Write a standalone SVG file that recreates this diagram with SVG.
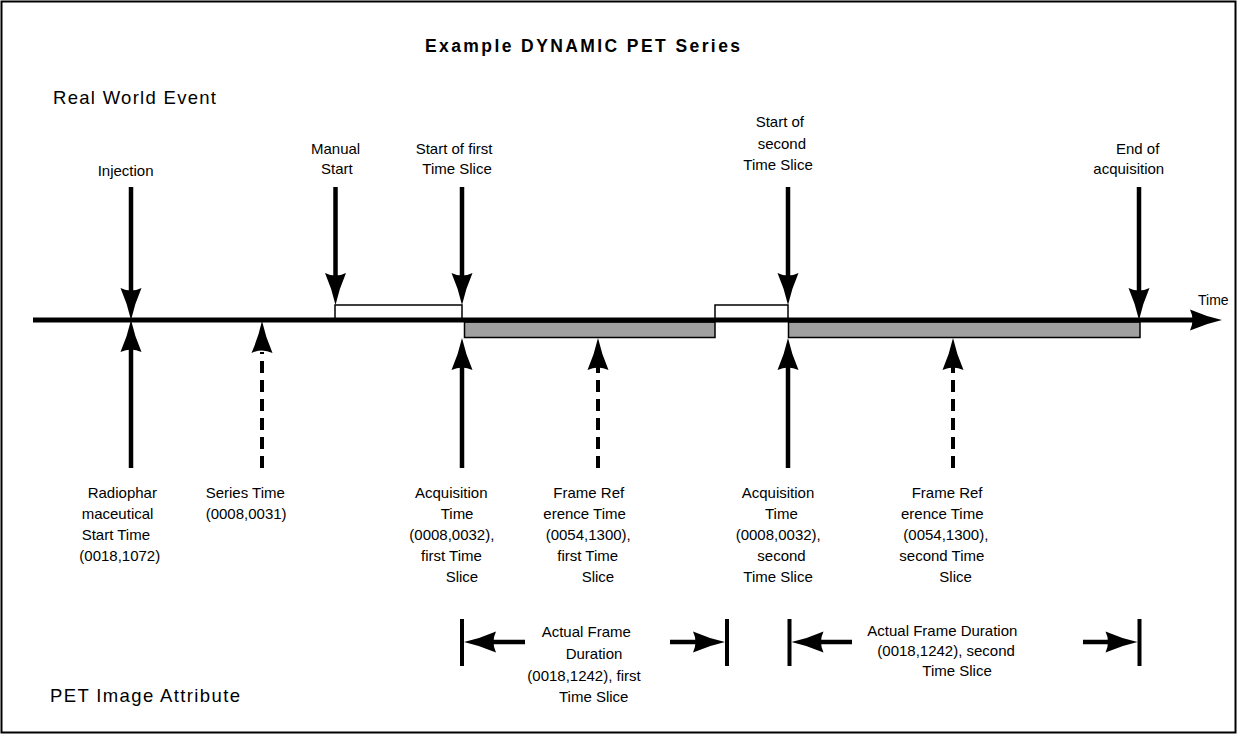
<svg xmlns="http://www.w3.org/2000/svg" xmlns:xlink="http://www.w3.org/1999/xlink" width="1238" height="734" viewBox="0 0 1238 734">
<style>
  text { font-family: "Liberation Sans", Arial, sans-serif; fill: #000; }
  .lbl { font-size: 15px; }
  .big { font-size: 18.5px; }
  .title { font-size: 17.5px; font-weight: bold; }
  .shaft { stroke: #000; stroke-width: 4.5; fill: none; }
  .dash { stroke: #000; stroke-width: 4; fill: none; stroke-dasharray: 12 7; }
  .bar { stroke: #000; stroke-width: 4; }
  .axis { stroke: #000; stroke-width: 5; }
  .ah { fill: #000; }
  .slice { fill: #a0a0a0; stroke: #000; stroke-width: 1.5; }
  .gap { fill: #fff; stroke: #000; stroke-width: 1.5; }
</style>
<defs>
  <path id="ah" d="M0,0 Q-16,-3.5 -32,-10.5 Q-27,0 -32,10.5 Q-16,3.5 0,0Z"/>
</defs>
<rect x="1.5" y="1.5" width="1234" height="731" fill="#fff" stroke="#000" stroke-width="2"/>

<text class="title" x="425" y="52" textLength="315">Example DYNAMIC PET Series</text>
<text class="big" x="53" y="104" textLength="163">Real World Event</text>
<text class="big" x="50" y="702" textLength="190">PET Image Attribute</text>

<!-- time slices -->
<g id="slices">
  <rect class="gap" x="335" y="305" width="127" height="15"/>
  <rect class="gap" x="715" y="305" width="73" height="15"/>
  <rect class="slice" x="464.5" y="322" width="250.5" height="15.5"/>
  <rect class="slice" x="788.5" y="322" width="351.5" height="15.5"/>
</g>

<!-- time axis -->
<g id="axis">
  <line class="axis" x1="33" y1="320" x2="1200" y2="320"/>
  <use xlink:href="#ah" class="ah" transform="translate(1222,320)"/>
  <text x="1198" y="305" font-size="14">Time</text>
</g>

<!-- real world events -->
<g id="injection">
  <text class="lbl" x="97.7" y="176">Injection</text>
</g>
<g id="manual-start">
  <text class="lbl" x="311" y="154">Manual</text>
  <text class="lbl" x="321" y="174">Start</text>
</g>
<g id="start-first">
  <text class="lbl" x="415.7" y="154">Start of first</text>
  <text class="lbl" x="422.3" y="174">Time Slice</text>
</g>
<g id="start-second">
  <text class="lbl" x="755.7" y="127">Start of</text>
  <text class="lbl" x="757.7" y="148.5">second</text>
  <text class="lbl" x="743.3" y="170">Time Slice</text>
</g>
<g id="end-acq">
  <text class="lbl" x="1116" y="154">End of</text>
  <text class="lbl" x="1093.3" y="174">acquisition</text>
</g>

<!-- attributes -->
<g id="radiopharm">
  <text class="lbl" x="87.7" y="498">Radiophar</text>
  <text class="lbl" x="81.7" y="519">maceutical</text>
  <text class="lbl" x="81.7" y="540">Start Time</text>
  <text class="lbl" x="79.3" y="561">(0018,1072)</text>
</g>
<g id="series-time">
  <text class="lbl" x="205.7" y="498">Series Time</text>
  <text class="lbl" x="205.7" y="519">(0008,0031)</text>
</g>
<g id="acq-first">
  <text class="lbl" x="415" y="498">Acquisition</text>
  <text class="lbl" x="440.7" y="519">Time</text>
  <text class="lbl" x="409.3" y="540">(0008,0032),</text>
  <text class="lbl" x="421" y="561">first Time</text>
  <text class="lbl" x="445.7" y="582">Slice</text>
</g>
<g id="frameref-first">
  <text class="lbl" x="553.3" y="498">Frame Ref</text>
  <text class="lbl" x="543.3" y="519">erence Time</text>
  <text class="lbl" x="545.7" y="540">(0054,1300),</text>
  <text class="lbl" x="557.3" y="561">first Time</text>
  <text class="lbl" x="581.7" y="582">Slice</text>
</g>
<g id="acq-second">
  <text class="lbl" x="741.7" y="498">Acquisition</text>
  <text class="lbl" x="765" y="519">Time</text>
  <text class="lbl" x="735.7" y="540">(0008,0032),</text>
  <text class="lbl" x="757.3" y="561">second</text>
  <text class="lbl" x="743.3" y="582">Time Slice</text>
</g>
<g id="frameref-second">
  <text class="lbl" x="911.7" y="498">Frame Ref</text>
  <text class="lbl" x="901" y="519">erence Time</text>
  <text class="lbl" x="903.3" y="540">(0054,1300),</text>
  <text class="lbl" x="899.3" y="561">second Time</text>
  <text class="lbl" x="939.3" y="582">Slice</text>
</g>
<g id="duration-first">
  <text class="lbl" x="541.7" y="637">Actual Frame</text>
  <text class="lbl" x="565.7" y="659">Duration</text>
  <text class="lbl" x="527.3" y="681">(0018,1242), first</text>
  <text class="lbl" x="559" y="702">Time Slice</text>
</g>
<g id="duration-second">
  <text class="lbl" x="867.3" y="636">Actual Frame Duration</text>
  <text class="lbl" x="877.3" y="656">(0018,1242), second</text>
  <text class="lbl" x="922.3" y="676">Time Slice</text>
</g>

<!-- connectors -->
<g id="connectors">
  <!-- down arrows from events -->
  <line class="shaft" x1="131" y1="187" x2="131" y2="300"/>
  <use xlink:href="#ah" class="ah" transform="translate(131,320) rotate(90)"/>
  <line class="shaft" x1="335.5" y1="187" x2="335.5" y2="285"/>
  <use xlink:href="#ah" class="ah" transform="translate(335.5,305) rotate(90)"/>
  <line class="shaft" x1="462" y1="187" x2="462" y2="285"/>
  <use xlink:href="#ah" class="ah" transform="translate(462,305) rotate(90)"/>
  <line class="shaft" x1="788" y1="187" x2="788" y2="285"/>
  <use xlink:href="#ah" class="ah" transform="translate(788,305) rotate(90)"/>
  <line class="shaft" x1="1139" y1="187" x2="1139" y2="300"/>
  <use xlink:href="#ah" class="ah" transform="translate(1139,320) rotate(90)"/>

  <!-- up arrows from attributes -->
  <line class="shaft" x1="131" y1="468" x2="131" y2="340"/>
  <use xlink:href="#ah" class="ah" transform="translate(131,320) rotate(-90)"/>
  <line class="dash" x1="262" y1="468" x2="262" y2="352"/>
  <use xlink:href="#ah" class="ah" transform="translate(262,321) rotate(-90)"/>
  <line class="shaft" x1="462" y1="468" x2="462" y2="358"/>
  <use xlink:href="#ah" class="ah" transform="translate(462,338) rotate(-90)"/>
  <line class="dash" x1="598" y1="468" x2="598" y2="366"/>
  <use xlink:href="#ah" class="ah" transform="translate(598,338) rotate(-90)"/>
  <line class="shaft" x1="788" y1="468" x2="788" y2="358"/>
  <use xlink:href="#ah" class="ah" transform="translate(788,338) rotate(-90)"/>
  <line class="dash" x1="953" y1="468" x2="953" y2="366"/>
  <use xlink:href="#ah" class="ah" transform="translate(953,338) rotate(-90)"/>

  <!-- duration dimension arrows -->
  <line class="bar" x1="462" y1="619" x2="462" y2="666"/>
  <line class="shaft" x1="525" y1="642" x2="484" y2="642"/>
  <use xlink:href="#ah" class="ah" transform="translate(464,642) rotate(180)"/>
  <line class="shaft" x1="670" y1="642" x2="705" y2="642"/>
  <use xlink:href="#ah" class="ah" transform="translate(725,642)"/>
  <line class="bar" x1="727" y1="619" x2="727" y2="666"/>

  <line class="bar" x1="789.5" y1="619" x2="789.5" y2="666"/>
  <line class="shaft" x1="852" y1="642" x2="812" y2="642"/>
  <use xlink:href="#ah" class="ah" transform="translate(791.5,642) rotate(180)"/>
  <line class="shaft" x1="1083" y1="642" x2="1117" y2="642"/>
  <use xlink:href="#ah" class="ah" transform="translate(1137.5,642)"/>
  <line class="bar" x1="1139.5" y1="619" x2="1139.5" y2="666"/>
</g>
</svg>
